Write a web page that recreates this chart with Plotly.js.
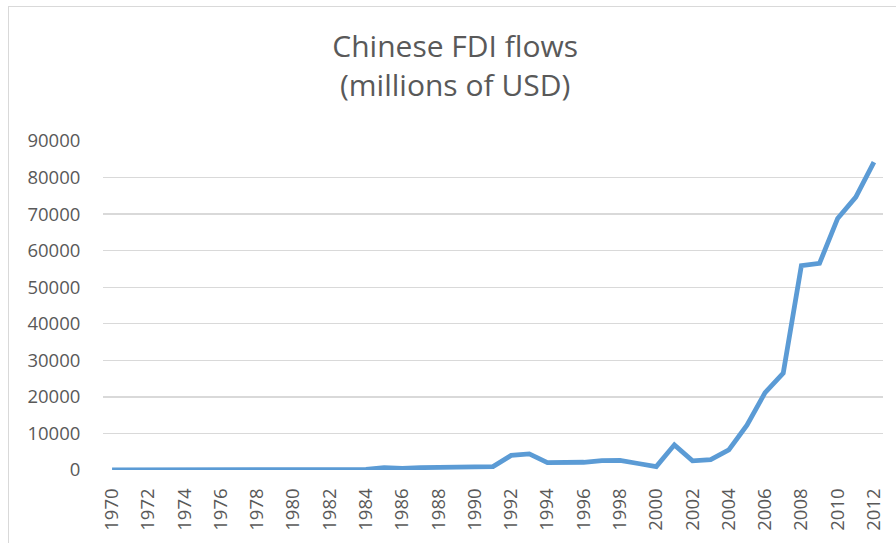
<!DOCTYPE html>
<html>
<head>
<meta charset="utf-8">
<script src="https://cdn.plot.ly/plotly-3.0.1.min.js"></script>
<style>
html,body{margin:0;padding:0;background:#fff;}
#chart{width:896px;height:543px;position:absolute;left:0;top:0;}
#frame{position:absolute;left:8px;top:6px;width:900px;height:600px;border-left:1px solid #d9d9d9;border-top:1px solid #d9d9d9;pointer-events:none;}
</style>
</head>
<body>
<div id="chart"></div>
<div id="frame"></div>
<script>
const years = [1970,1971,1972,1973,1974,1975,1976,1977,1978,1979,1980,1981,1982,1983,1984,1985,1986,1987,1988,1989,1990,1991,1992,1993,1994,1995,1996,1997,1998,1999,2000,2001,2002,2003,2004,2005,2006,2007,2008,2009,2010,2011,2012];
const fdiFlows = [0,0,0,0,0,0,0,0,0,0,0,0,44,93,134,629,450,645,850,780,830,913,4000,4400,2000,2000,2114,2562,2634,1775,916,6885,2518,2855,5498,12261,21160,26510,55910,56530,68811,74654,84220];
const tickYears = [1970,1972,1974,1976,1978,1980,1982,1984,1986,1988,1990,1992,1994,1996,1998,2000,2002,2004,2006,2008,2010,2012];
const yTicks = [0,10000,20000,30000,40000,50000,60000,70000,80000,90000];

const trace = {
  x: years, y: fdiFlows, type: 'scatter', mode: 'lines',
  line: {color: '#5b9bd5', width: 4.8, shape: 'linear'},
  hoverinfo: 'x+y'
};
const layout = {
  width: 896, height: 543,
  margin: {l: 103, r: 13, t: 141, b: 72.5, pad: 0},
  paper_bgcolor: '#ffffff', plot_bgcolor: '#ffffff',
  font: {family: 'Open Sans, Liberation Sans, sans-serif', color: '#595959'},
  title: {text: 'Chinese FDI flows<br>(millions of USD)', font: {size: 30, color: '#595959', family: 'Open Sans, sans-serif'}, x: 0.508, xanchor: 'center', yref: 'container', y: 0.895, yanchor: 'middle'},
  showlegend: false,
  xaxis: {
    range: [1969.5, 2012.5], tickmode: 'array', tickvals: tickYears, ticktext: tickYears.map(String),
    tickangle: -90, tickfont: {size: 18.5, color: '#595959'}, showgrid: false, zeroline: false,
    showline: false, ticks: 'outside', ticklen: 10, tickcolor: 'rgba(0,0,0,0)', fixedrange: true
  },
  yaxis: {
    range: [0, 90000], tickmode: 'array', tickvals: yTicks, ticktext: yTicks.map(String),
    tickfont: {size: 18.5, color: '#595959'}, showgrid: true, gridcolor: '#d9d9d9', gridwidth: 1.3,
    zeroline: false, showline: false, ticks: 'outside', ticklen: 18, tickcolor: 'rgba(0,0,0,0)', fixedrange: true
  }
};
Plotly.newPlot('chart', [trace], layout, {displayModeBar: false, staticPlot: true});
</script>
</body>
</html>
